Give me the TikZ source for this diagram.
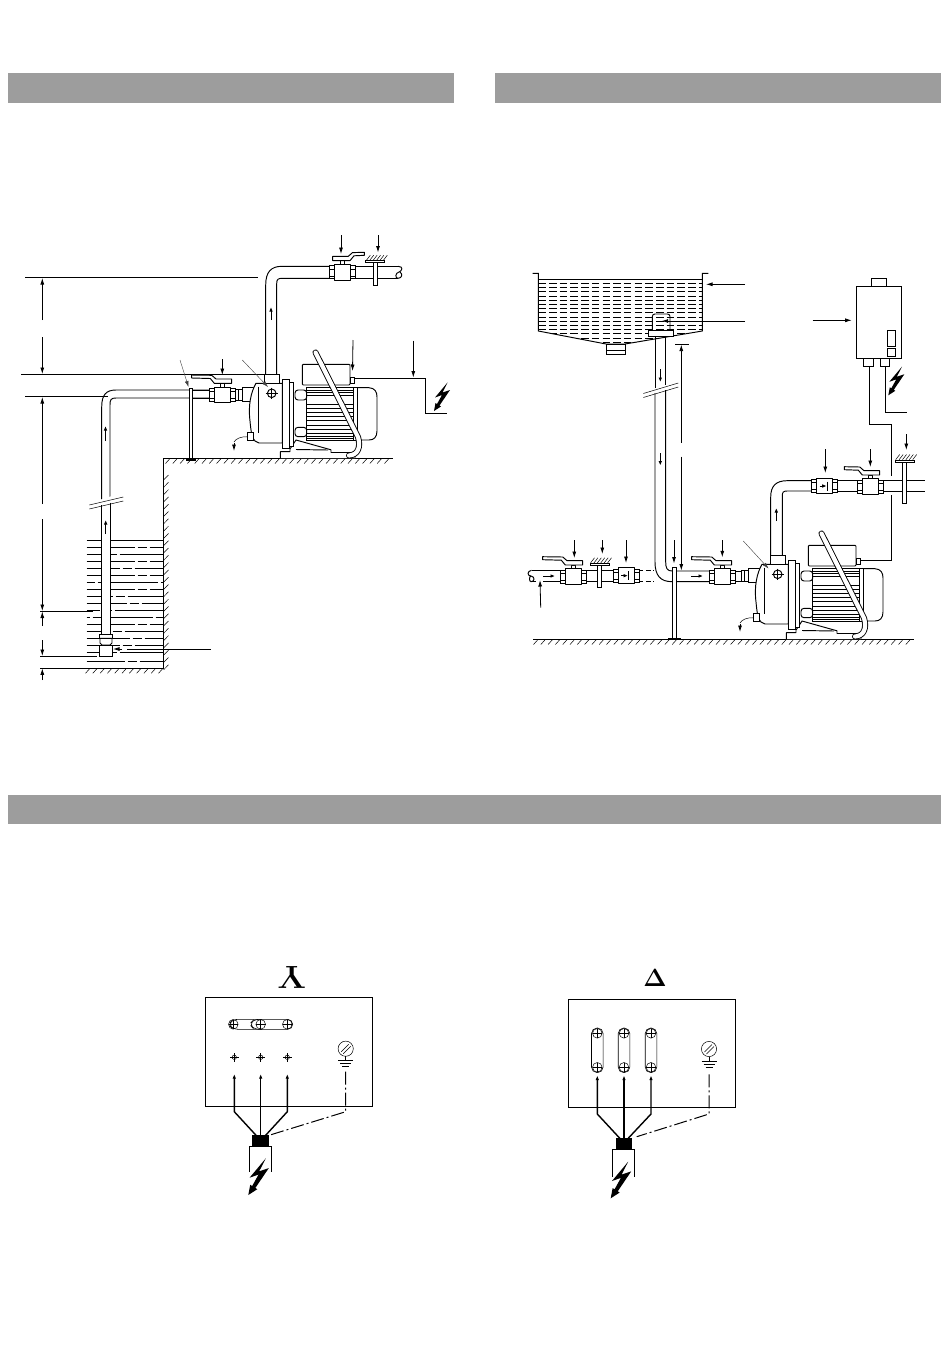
\documentclass[tikz,border=0pt]{standalone}
\usetikzlibrary{arrows.meta}
\definecolor{headgrey}{HTML}{9D9D9D}
\tikzset{
  ln/.style={line width=.95pt,black},
  thin line/.style={line width=.5pt,black},
  ar/.style={line width=.8pt,black,-{Latex[length=6.5pt,width=4pt]}},
  small ar/.style={line width=1pt,black,-{Latex[length=4.5pt,width=3.6pt]}},
  ptr/.style={line width=.4pt,black!75,-{Latex[length=6pt,width=3.8pt]}},
  wire/.style={line width=1.4pt,black,line join=round,-{Latex[length=4.5pt,width=3.4pt]}},
  dd/.style={line width=1pt,black,dash pattern=on 13pt off 3pt on 2pt off 3pt},
  water/.style={line width=.75pt,black},
}
\newcommand{\nutpair}{%
  \draw[ln,fill=white,line join=round] (-8,-7.8) rectangle (8,7.8);
  \draw[ln,fill=white] (-13,-6.5) rectangle (-8,6.5);
  \draw[ln,fill=white] (8,-6.5) rectangle (13,6.5);
  \draw[thin line] (-13,-3.5)--(-8,-3.5) (-13,3.5)--(-8,3.5) (8,-3.5)--(13,-3.5) (8,3.5)--(13,3.5);
}
% x, y, direction, lever end
\newcommand{\ballvalve}[4]{\begin{scope}[shift={(#1,#2)},xscale=#3]
  \nutpair
  \draw[ln,fill=white] (-2,-11.7) rectangle (2,-7.8);
  \draw[ln,fill=white,line join=round] (-9.3,-16) -- (6.3,-16) -- (10.5,-19.7) -- (#4,-20) -- (#4,-17) -- (12,-16.5) -- (8,-11.7) -- (-9.3,-11.7) -- cycle;
\end{scope}}
\newcommand{\checkvalve}[2]{\begin{scope}[shift={(#1,#2)}]
  \nutpair
  \draw[small ar] (-5,0) -- (2,0);
  \draw[ln] (2.8,-4.5) -- (2.8,4.5);
\end{scope}}
\newcommand{\drawbolt}[3]{\begin{scope}[shift={(#1,#2)},scale=#3]
  \fill[black] (13.7,-28.7)--(1,-13.5)--(8,-16)--(3,-7)--(1.5,-8)--(0,0)--(7,-4.5)--(5.5,-5.5)--(16,-21)--(8.5,-18.5)--cycle;
\end{scope}}
\newcommand{\hatchh}[3]{\foreach \hi in {0,...,#2}{\draw[thin line] ({#1+\hi*7.3},#3) -- ({#1+\hi*7.3-4.5},{#3+5});}}
\newcommand{\tbracket}[3]{% x centre, top of bar y, bottom of leg
  \foreach \hi in {0,...,5}{\draw[thin line] ({#1-9+\hi*3.4},{#2-.3}) -- ({#1-5+\hi*3.4},{#2-5.5});}
  \draw[ln,fill=white] ({#1-2.1},{#2+2}) rectangle ({#1+2.1},#3);
  \draw[ln,fill=white] ({#1-9.5},#2) rectangle ({#1+9.5},{#2+2});
}
\newcommand{\pumpunit}[2]{\begin{scope}[shift={(#1,#2)}]
  % motor
  \draw[ln,fill=white,rounded corners=1pt] (302.3,364.3) rectangle (350,385);
  \draw[ln,fill=white] (350,377) rectangle (354,383.3);
  \draw[ln,fill=white] (357,387.7) -- (369,387.7) .. controls (375,388) and (377,392) .. (377,397) -- (377,431) .. controls (377,437) and (374,440) .. (369,440) -- (357,440) -- cycle;
  \draw[ln,fill=white] (306.7,387.7) rectangle (357,440);
  \foreach \fy in {390,392.5,395,404,408,412.5,416.5,420.5,425,429,433,436.5,438.5}{\draw[line width=.7pt] (307,\fy) -- (353,\fy);}
  \draw[ln] (353,387.7) -- (353,440);
  % studs
  \draw[ln,fill=white,rounded corners=3pt] (295,390) rectangle (306.7,400);
  \draw[ln,fill=white,rounded corners=3pt] (295,427.3) rectangle (306.7,436.7);
  % foot
  \draw[ln,fill=white,line join=round] (280.3,458) -- (280.3,451.7) -- (290,451.7) -- (290,449) -- (296,440) -- (331,449.8) -- (331,452.5) -- (355,452.5) -- (355,458);
  \draw[ln] (296,449.5) -- (328,450);
  % flange
  \draw[ln,fill=white] (282.3,379.3) rectangle (289.3,448.3);
  \draw[ln,fill=white] (289.3,382) rectangle (293.3,446);
  \draw[line width=1.5pt] (289.3,379.3) -- (289.3,448.3);
  % stub + nipple
  \draw[ln,fill=white] (235.7,389) rectangle (242.7,400.3);
  \draw[thin line] (238,389) -- (238,400.3);
  \draw[ln,fill=white] (242.7,387.7) rectangle (253,401.7);
  % casing
  \draw[ln,fill=white,line join=round] (282.3,383.3) -- (256,383.3) .. controls (251,392) and (248,405) .. (250,421) .. controls (251,432) and (252,438) .. (255,441) -- (259,443) -- (282.3,443) -- cycle;
  \draw[ln] (258.3,386.7) -- (258.3,433);
  % outlet
  \draw[ln,fill=white] (264,383.3) -- (264,374.3) -- (279,374.3) -- (279,383.3);
  % priming screw
  \draw[ln] (271.7,393.3) circle (4.3);
  \draw[line width=.9pt] (265.5,393.3) -- (277.9,393.3) (271.7,387.5) -- (271.7,399);
  % drain
  \draw[ln,fill=white] (247.7,432.7) rectangle (253.3,440.7);
  \draw[thin line] (247.7,436.7) .. controls (241,436.5) and (236,438.5) .. (234,442);
  \draw[ar] (234,443) -- (234,451);
  % handle
  \draw[line width=6pt,black,line cap=round,line join=round] (315.5,352.5) -- (358,437) .. controls (361,447) and (358,455) .. (349,455.5);
  \draw[line width=4.2pt,white,line cap=round,line join=round] (315.5,352.5) -- (358,437) .. controls (361,447) and (358,455) .. (349,455.5);
\end{scope}}
\newcommand{\screwbig}[2]{%
  \draw[thin line] (#1,#2) circle (4.8);
  \draw[line width=.8pt] ({#1-4.8},#2) -- ({#1+4.8},#2) (#1,{#2-4.8}) -- (#1,{#2+4.8});
}
\newcommand{\screwsmall}[2]{%
  \draw[thin line] (#1,#2) circle (2.2);
  \draw[line width=.8pt] ({#1-4.3},#2) -- ({#1+4.3},#2) (#1,{#2-4.3}) -- (#1,{#2+4.3});
}
\newcommand{\earthsym}[2]{%
  \draw[line width=.5pt] (#1,#2) circle (7.6);
  \draw[line width=.5pt] ({#1-4.5},{#2+3}) -- ({#1+3},{#2-4.5}) ({#1-2.5},{#2+5}) -- ({#1+5},{#2-2.5});
  \draw[ln] (#1,{#2+7.6}) -- (#1,{#2+12});
  \draw[ln] ({#1-7.5},{#2+12}) -- ({#1+7.5},{#2+12}) ({#1-5.5},{#2+15}) -- ({#1+5.5},{#2+15}) ({#1-3.5},{#2+18}) -- ({#1+3.5},{#2+18});
}
\begin{document}
\begin{tikzpicture}[x=1pt,y=-1pt]
\fill[white] (0,0) rectangle (950,1360);
\useasboundingbox (0,0) rectangle (950,1360);
% headers
\fill[headgrey] (8,73) rectangle (454,103);
\fill[headgrey] (495,73) rectangle (941,103);
\fill[headgrey] (8,795) rectangle (941,824);

%%%%%% LEFT DIAGRAM %%%%%%
% water
\draw[line width=1.4pt] (86.7,540.7) -- (163.3,540.7);
\foreach \wy/\wp in {547.5/0,554.5/30,561.5/0,568.5/15,575.5/0,582.5/40,589.5/0,596.5/22,603.5/8,610.5/35,617.5/45,624.5/0,631.5/25,638.5/5,645.5/15,652.5/30,661.3/10}{
  \draw[water,dash pattern=on 48pt off 3pt on 9pt off 3pt,dash phase=\wp pt] (86.7,\wy) -- (163.3,\wy);
}
\draw[ln] (40,668) -- (163.3,668) -- (163.3,458.3) -- (392.7,458.3);
\hatchh{90}{10}{668.3}
\hatchh{170}{30}{458.5}
\foreach \i in {0,...,26}{\draw[thin line] (168.5,{475+\i*7.3}) -- (163.6,{480+\i*7.3});}
% inlet pipe
\fill[white] (101.7,398) rectangle (110,634);
\draw[ln] (101.7,500.5) -- (101.7,407) .. controls (101.7,395) and (106,390) .. (116,390) -- (210,390);
\draw[ln] (110,497.5) -- (110,405) .. controls (110,399.5) and (111,398) .. (116,398) -- (210,398);
\draw[ln] (101.7,505) -- (101.7,634.3) (110,502.5) -- (110,634.3);
\fill[white] (88,503.5) -- (123,492.5) -- (123,497.5) -- (88,508.5) -- cycle;
\draw[thin line] (89.3,505) -- (123.3,497) (89.3,509) -- (123.3,501);
% foot valve
\draw[ln,fill=white] (99.3,634.3) rectangle (112.7,638.3);
\draw[ln,fill=white] (100,638.3) -- (112,638.3) -- (112,643) -- (110,645) -- (102,645) -- (100,643) -- cycle;
\draw[ln,fill=white] (99.3,645) rectangle (112.7,656.7);
% dimension lines
\draw[ln] (25,277.5) -- (258.3,277.5);
\draw[ln] (21,374.3) -- (264,374.3);
\draw[thin line] (25,396.7) -- (108,396.7);
\draw[ln] (40,611) -- (93,611);
\draw[ln] (40,656) -- (97,656);
\draw[ar] (42.3,320) -- (42.3,278);
\draw[ar] (42.3,337) -- (42.3,374);
\draw[ar] (42.3,504) -- (42.3,397);
\draw[ar] (42.3,519) -- (42.3,611);
\draw[ar] (42.3,626) -- (42.3,611.5);
\draw[ar] (42.3,640) -- (42.3,656);
\draw[ar] (42.3,680) -- (42.3,668.3);
\draw[ln] (127,649) -- (211,649);
\draw[ar] (122,649) -- (113,649);
% small flow arrows
\draw[small ar] (105.5,441) -- (105.5,426);
\draw[small ar] (105.7,534) -- (105.7,520);
% support
\draw[ln,fill=white] (189.3,388) rectangle (192.7,459);
\fill[black] (185.7,458) rectangle (196,461);
% outlet pipe
\draw[ln] (265.7,374.3) -- (265.7,285) .. controls (265.7,272) and (271,266.3) .. (282,266.3) -- (330,266.3);
\draw[ln] (276.7,374.3) -- (276.7,283.5) .. controls (276.7,279.5) and (278,278.3) .. (282,278.3) -- (330,278.3);
\draw[ln] (354,266.3) -- (398,266.3) (354,278.3) -- (398,278.3);
\draw[ln] (398,266.3) .. controls (404,266.5) and (402,271) .. (399,272) .. controls (395,273) and (395,278.3) .. (398,278.3) .. controls (402,278.3) and (403,274) .. (400,272);
\draw[small ar] (271,320) -- (271,307);
\ballvalve{342}{272.3}{1}{22.3}
\tbracket{375.3}{260.7}{285}
\draw[ar] (341,235) -- (341,254);
\draw[ar] (378,235) -- (378,252.5);
% left horizontal valve + pump
\pumpunit{0}{0}
\draw[ln] (192.7,390) -- (210,390) (192.7,398) -- (210,398);
\ballvalve{222.3}{395}{-1}{30.7}
\draw[ar] (222.3,359.3) -- (222.3,375);
\draw[ptr] (180,360) -- (188.5,387);
\draw[ptr] (242.3,360) -- (268,387);
\draw[ar] (353,340) -- (352.5,371);
\draw[ln] (354.3,378.3) -- (425.3,378.3) -- (425.3,413.3) -- (446.7,413.3);
\draw[ar] (413.3,340.7) -- (413.3,377.5);
\drawbolt{434}{411}{1}

%%%%%% RIGHT DIAGRAM %%%%%%
% tank
\begin{scope}
  \clip (538.3,279.3) -- (702.3,279.3) -- (702.3,331) -- (625,344) -- (606,344) -- (538.3,331) -- cycle;
  \foreach \wy in {283.3,287.5,291.7,295.9,300.1,304.3,308.5,312.7,316.9,321.1,325.3,329.5,333.7,337.9,342.1}{
    \draw[water,dash pattern=on 7.5pt off 3.2pt] (538.3,\wy) -- (702.3,\wy);
  }
\end{scope}
\draw[ln] (532.7,273.3) -- (538.3,273.3) -- (538.3,331) -- (606,344) -- (625,344) -- (702.3,331) -- (702.3,273.3) -- (708.3,273.3);
\draw[ln] (538.3,279.3) -- (702.3,279.3);
\draw[ln,fill=white] (606,344) rectangle (625,354);
\draw[ln] (606,350) -- (625,350);
\draw[ln,rounded corners=2.5pt] (652.3,330) -- (652.3,314) -- (670,314) -- (670,330);
\draw[ln,fill=white] (648.3,330) rectangle (673.3,336);
\draw[ar] (745,284.3) -- (706,284.3);
\draw[ar] (745,321) -- (661.7,321);
% heater
\draw[ln] (871,286) -- (871,278.3) -- (886.7,278.3) -- (886.7,286);
\draw[ln] (856,286) rectangle (901.7,358.3);
\draw[ln] (887.7,330.7) rectangle (895.7,346.7);
\draw[ln] (887.7,348.3) rectangle (895.7,356.7);
\draw[ln] (863.3,358.3) rectangle (873.3,366.7);
\draw[ln] (880.7,358.3) rectangle (889.3,366);
\draw[ar] (812.7,320.3) -- (851.7,320.3);
\drawbolt{888.3}{395.3}{1}
\draw[ln] (869.3,366.7) -- (869.3,424) -- (891.7,424) -- (891.7,475.7);
\draw[ln] (891.7,495) -- (891.7,560.7) -- (860,560.7);
\draw[ln] (885.7,366) -- (885.7,412) -- (906.7,412);
% drop pipe
\draw[ln] (655,336) -- (655,387.5) (665.7,336) -- (665.7,385);
\draw[thin line] (643.3,393.5) -- (678.3,383) (643.3,397.5) -- (678.3,387);
\draw[ln] (655,393) -- (655,562) .. controls (655,575) and (660,581.7) .. (672,581.7) -- (710,581.7);
\draw[ln] (665.7,390) -- (665.7,562) .. controls (665.7,568) and (667,571) .. (672,571) -- (710,571);
\draw[small ar] (660.3,369.3) -- (660.3,382);
\draw[small ar] (660.3,453.3) -- (660.3,465.5);
\draw[ln] (675,344.3) -- (689.3,344.3);
\draw[ar] (681.3,442.7) -- (681.3,344.6);
\draw[ar] (681.3,456.7) -- (681.3,570.5);
% support
\draw[ln,fill=white] (672,567.3) rectangle (676,638.5);
\fill[black] (667.5,638) rectangle (681,640);
\draw[ar] (674,540) -- (674,563.5);
% ground
\draw[ln] (533.3,639.2) -- (914,639.2);
\hatchh{538}{51}{639.5}
% inlet run
\draw[ln] (531.7,570.3) -- (562,570.3) (543,581.7) -- (562,581.7) (585,570.3) -- (614,570.3) (585,581.7) -- (614,581.7);
\draw[ln] (531.5,570.3) .. controls (527,571) and (527,576) .. (531,576) .. controls (535,576.5) and (535,581.7) .. (531,581.7) .. controls (529,581.7) and (529,576) .. (531,576);
\draw[ln] (531,581.7) -- (536,581.7);
\draw[ln,dash pattern=on 5pt off 2.5pt] (638.3,570.3) -- (654,570.3) (638.3,581.7) -- (654,581.7);
\ballvalve{573.3}{576.7}{-1}{30.7}
\tbracket{599.5}{563.3}{587.3}
\checkvalve{626}{575.7}
\draw[small ar] (543.3,576) -- (555,576);
\draw[ar] (540.7,607.7) -- (540,580);
\draw[ar] (574.3,540) -- (574.3,558);
\draw[ar] (602.3,540) -- (602.3,554);
\draw[ar] (626,540) -- (626,563);
% pump
\draw[ln] (735,571) -- (742,571) (735,581.7) -- (742,581.7);
\pumpunit{506}{181}
\ballvalve{722.3}{576.7}{-1}{30.7}
\draw[small ar] (691,576) -- (703,576);
\draw[ar] (722.3,540) -- (722.3,557.3);
\draw[ptr] (743.3,541) -- (768.5,568.5);
% outlet run
\draw[ln] (770.7,555.3) -- (770.7,497) .. controls (770.7,486) and (776,480.7) .. (787,480.7) -- (812,480.7);
\draw[ln] (782.3,555.3) -- (782.3,496) .. controls (782.3,492.5) and (783,491) .. (787,491) -- (812,491);
\draw[ln] (838,480.7) -- (857,480.7) (838,491) -- (857,491);
\draw[ln] (883,480.7) -- (925,480.7) (883,491) -- (925,491);
\draw[small ar] (776.3,521) -- (776.3,508);
\checkvalve{824.7}{486}
\ballvalve{870.3}{486.7}{-1}{26}
\tbracket{904.7}{460}{503.3}
\draw[ar] (825.3,449.3) -- (825.3,473);
\draw[ar] (870.3,449.3) -- (870.3,467);
\draw[ar] (906.3,434.3) -- (906.3,450);

%%%%%% WIRING LEFT %%%%%%
\node[rotate=180,font=\bfseries\fontsize{32}{32}\selectfont,inner sep=0pt] (ystar) at (291.7,977) {Y};
\draw[line width=1pt] (205.3,997.3) rectangle (372.3,1106);
\draw[line width=.6pt,rounded corners=5pt] (262,1019.3) -- (233,1019.3) -- (228.4,1024.3) -- (233,1029.3) -- (262,1029.3);
\draw[line width=.6pt,rounded corners=5pt] (254,1019.3) -- (292.7,1019.3) -- (292.7,1029.3) -- (254,1029.3) -- (249.5,1024.3) -- cycle;
\screwbig{233.3}{1024.3}
\screwbig{260.7}{1024.3}
\screwbig{287.3}{1024.3}
\screwsmall{234.3}{1057.3}
\screwsmall{260.7}{1057.3}
\screwsmall{287.3}{1057.3}
\draw[wire] (256.7,1136) -- (234.3,1111.7) -- (234.3,1074);
\draw[wire] (260.7,1136) -- (260.7,1074);
\draw[wire] (265,1136) -- (287.3,1111.7) -- (287.3,1074);
\fill[black] (252.3,1135) rectangle (269,1146.7);
\draw[ln] (249.3,1172) -- (249.3,1146.7) -- (271.7,1146.7) -- (271.7,1172);
\drawbolt{248.3}{1195}{1.28}
\earthsym{345.7}{1048.7}
\draw[dd] (345.7,1071.7) -- (345.7,1111.7) -- (270,1135);

%%%%%% WIRING RIGHT %%%%%%
\node[font=\fontsize{34}{34}\selectfont,inner sep=0pt] (delta) at (655,978) {$\mathbf{\Delta}$};
\draw[line width=1pt] (568.3,999.3) rectangle (735.3,1107.3);
\foreach \sx in {597.3,624,651}{
  \draw[line width=.6pt,rounded corners=5.5pt] ({\sx-5.8},1028) rectangle ({\sx+5.8},1072.6);
  \screwbig{\sx}{1033.3}
  \screwbig{\sx}{1067.3}
}
\draw[wire] (620,1138.5) -- (597.3,1114) -- (597.3,1075.5);
\draw[wire] (624,1138.5) -- (624,1075.5);
\draw[wire] (628,1138.5) -- (651,1114) -- (651,1075.5);
\fill[black] (616,1137.7) rectangle (632.3,1149.3);
\draw[ln] (612.3,1176.7) -- (612.3,1149.3) -- (634.3,1149.3) -- (634.3,1176.7);
\drawbolt{610.7}{1198.3}{1.28}
\earthsym{709}{1049}
\draw[dd] (709,1074.3) -- (709,1114) -- (636.7,1136.7);
\end{tikzpicture}
\end{document}
